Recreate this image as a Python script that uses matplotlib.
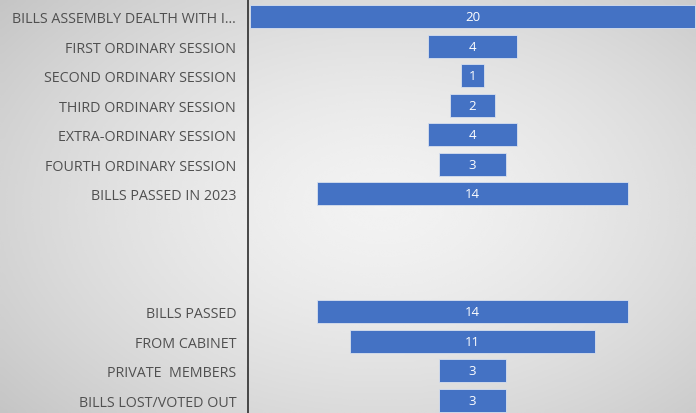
import numpy as np
import matplotlib.pyplot as plt

categories = [
    "BILLS ASSEMBLY DEALTH WITH I...", "FIRST ORDINARY SESSION",
    "SECOND ORDINARY SESSION", "THIRD ORDINARY SESSION",
    "EXTRA-ORDINARY SESSION", "FOURTH ORDINARY SESSION",
    "BILLS PASSED IN 2023", "", "", "",
    "BILLS PASSED", "FROM CABINET", "PRIVATE  MEMBERS", "BILLS LOST/VOTED OUT",
]
values = [20, 4, 1, 2, 4, 3, 14, None, None, None, 14, 11, 3, 3]

bar_color = "#4472C4"
text_color = "#505050"

fig = plt.figure(figsize=(6.96, 4.14), dpi=100)

# soft radial grey background
bg = fig.add_axes([0, 0, 1, 1])
yy, xx = np.mgrid[0:1:200j, 0:1:300j]
r = np.sqrt(((xx - 0.55) / 0.7) ** 2 + ((yy - 0.5) / 0.75) ** 2)
shade = np.clip(0.95 - 0.17 * r ** 1.5, 0.76, 0.95)
bg.imshow(shade, cmap="gray", vmin=0, vmax=1, aspect="auto",
          extent=[0, 1, 0, 1], interpolation="bicubic")
bg.axis("off")

ax = fig.add_axes([248 / 696, 0, 448 / 696, 1])
ax.patch.set_alpha(0)

rows = np.arange(len(categories))
for i, v in zip(rows, values):
    if v is None:
        continue
    ax.barh(i, v, left=-v / 2, height=0.78, color=bar_color,
            edgecolor="#d8e0ee", linewidth=0.6)
    ax.text(0, i, str(v), ha="center", va="center", color="white",
            fontsize=9.5, family="Open Sans")

ax.set_xlim(-10.09, 10.04)
ax.set_ylim(13.44, -0.61)
ax.set_yticks(rows)
ax.set_yticklabels(categories, fontsize=10.3, color=text_color, family="Open Sans")
ax.tick_params(axis="y", length=0, pad=8.5)
ax.set_xticks([])
for s in ["top", "right", "bottom"]:
    ax.spines[s].set_visible(False)
ax.spines["left"].set_color("#3a3a3a")
ax.spines["left"].set_linewidth(1.3)

fig.savefig("out.png", dpi=100)
